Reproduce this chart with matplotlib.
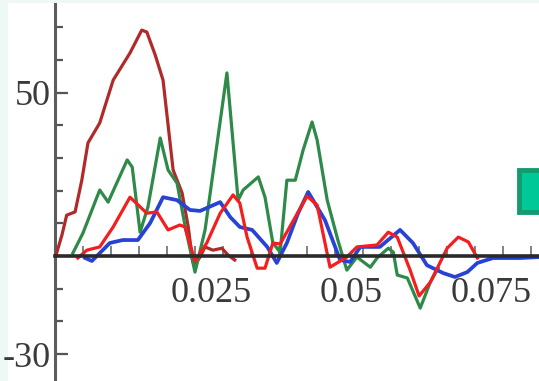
import matplotlib.pyplot as plt
from matplotlib.patches import Rectangle
from matplotlib.transforms import ScaledTranslation

# time (s) and amplitude, one pair per trace
t_dark = [0.0002, 0.00125, 0.0021, 0.0036, 0.0048, 0.0059, 0.0080, 0.0104, 0.0134, 0.0155,
          0.0164, 0.0179, 0.0193, 0.0205, 0.0211, 0.0227, 0.0238, 0.0246, 0.0252, 0.0259,
          0.0268, 0.0282, 0.0298, 0.0309, 0.0321]
y_dark = [0.3, 6.4, 12.5, 13.5, 23.2, 34.6, 40.7, 53.8, 62.1, 69.1,
          68.5, 61.5, 53.8, 35.5, 26.3, 19.3, 8.9, -1.8, -2.1, -0.3,
          2.8, 1.8, 2.4, 0.3, -1.2]

t_green = [0.0032, 0.0050, 0.0080, 0.0095, 0.0129, 0.0138, 0.0152, 0.0166, 0.0188, 0.0202,
           0.0218, 0.0232, 0.0250, 0.0268, 0.0307, 0.0327, 0.0336, 0.0363, 0.0375, 0.0389,
           0.0402, 0.0414, 0.0429, 0.0443, 0.0459, 0.0468, 0.0486, 0.0505, 0.0521, 0.0539,
           0.0563, 0.0575, 0.0595, 0.0604, 0.0611, 0.0629, 0.0652, 0.0670, 0.0684]
y_green = [0.9, 7.0, 20.2, 16.5, 29.4, 27.2, 7.3, 15.0, 36.1, 26.3,
           22.3, 9.5, -4.9, 8.0, 56.0, 17.1, 20.2, 24.2, 18.0, 4.0,
           1.2, 23.2, 23.2, 32.4, 41.0, 35.5, 17.1, 4.9, -4.3, -0.3,
           -3.4, -0.6, 2.4, 1.2, -5.8, -6.7, -15.9, -8.0, -3.7]

t_red = [0.0041, 0.0057, 0.0080, 0.0104, 0.0134, 0.0164, 0.0182, 0.0202, 0.0223, 0.0232,
         0.0250, 0.0271, 0.0295, 0.0318, 0.0330, 0.0343, 0.0361, 0.0375, 0.0389, 0.0402,
         0.0450, 0.0468, 0.0491, 0.0521, 0.0539, 0.0575, 0.0595, 0.0611, 0.0634, 0.0650,
         0.0670, 0.0700, 0.0720, 0.0738, 0.0754]
y_red = [-0.6, 1.8, 2.8, 8.9, 18.0, 13.1, 13.5, 8.0, 9.5, 8.9,
         -1.5, 4.0, 13.1, 18.7, 16.2, 5.8, -3.7, -3.7, 4.0, 3.7,
         18.3, 15.6, -3.4, -0.3, 2.8, 3.4, 7.3, 5.8, -4.3, -12.2,
         -8.0, 2.4, 5.8, 4.3, -0.6]

t_blue = [0.0054, 0.0066, 0.0080, 0.0098, 0.0121, 0.0148, 0.0170, 0.0193, 0.0218, 0.0241,
          0.0259, 0.0295, 0.0313, 0.0330, 0.0352, 0.0379, 0.0396, 0.0414, 0.0434, 0.0452,
          0.0482, 0.0509, 0.0527, 0.0545, 0.0580, 0.0616, 0.0639, 0.0664, 0.0693, 0.0714,
          0.0736, 0.0754, 0.0782, 0.0830, 0.0864]
y_blue = [-0.6, -1.5, 0.9, 4.0, 4.9, 4.9, 10.1, 18.0, 17.1, 14.1,
          13.8, 16.5, 11.9, 8.9, 8.0, 2.8, -2.1, 4.0, 13.1, 19.6,
          11.0, -1.2, -1.8, 2.8, 2.8, 8.0, 4.0, -2.8, -5.2, -6.4,
          -4.9, -2.1, -0.6, -0.6, -0.3]

x_ticks = [0.025, 0.05, 0.075]
x_labels = ['0.025', '0.05', '0.075']
y_ticks = [-30, 50]
y_labels = ['-30', '50']

plt.rcParams['font.family'] = ['Liberation Serif', 'DejaVu Serif']

fig = plt.figure(figsize=(5.39, 3.81), dpi=100)
fig.patch.set_facecolor('#eef8f4')
# white plotting area (pale band only at the very top and left)
fig.patches.append(Rectangle((8 / 539, 0), 1, 378 / 381, transform=fig.transFigure,
                             facecolor='white', edgecolor='none', zorder=-5))

ax = fig.add_axes([0, 0, 1, 1])
ax.set_facecolor('none')
ax.set_xlim(-0.0098, 0.0864)
ax.set_ylim(-38.2, 78.3)

lw = 2.3
ax.plot(t_dark, y_dark, color='#b02a2a', lw=lw, solid_joinstyle='round', zorder=3)
ax.plot(t_green, y_green, color='#2e8a48', lw=lw, solid_joinstyle='round', zorder=3)
ax.plot(t_blue, y_blue, color='#2743d6', lw=lw + 0.4, solid_joinstyle='round', zorder=4)
ax.plot(t_red, y_red, color='#f41e1e', lw=lw, solid_joinstyle='round', zorder=5)

# axes crossing at the origin
ax.spines['left'].set_position(('data', 0))
ax.spines['bottom'].set_position(('data', 0))
ax.spines['right'].set_visible(False)
ax.spines['top'].set_visible(False)
ax.spines['bottom'].set_bounds(0, 0.0864)
ax.spines['left'].set_bounds(-38.2, 77)
ax.spines['bottom'].set_color('#2a2a2a')
ax.spines['bottom'].set_linewidth(2.6)
ax.spines['bottom'].set_zorder(6)
ax.spines['left'].set_color('#5c5c5c')
ax.spines['left'].set_linewidth(2.2)

ax.set_xticks(x_ticks)
ax.set_xticklabels(x_labels)
ax.set_xticks([i * 0.005 for i in range(1, 18)], minor=True)
ax.set_yticks(y_ticks)
ax.set_yticklabels(y_labels)
ax.set_yticks([-20, -10, 10, 20, 30, 40, 60, 70], minor=True)

ax.tick_params(axis='x', which='both', direction='in', length=7, width=1.3, color='#777777',
               labelsize=26, labelcolor='#3a3a3a', pad=15)
ax.tick_params(axis='y', which='major', direction='in', length=9, width=1.6, color='#555555',
               labelsize=26, labelcolor='#3a3a3a', pad=3)
ax.tick_params(axis='y', which='minor', direction='in', length=6, width=1.6, color='#555555')

# labels sit a little right of their ticks in the original
shift = ScaledTranslation(16 / 100, 0, fig.dpi_scale_trans)
for lab in ax.get_xticklabels():
    lab.set_transform(lab.get_transform() + shift)

# cut-off legend swatch at the right edge
fig.patches.append(Rectangle((519 / 539, 169 / 381), 0.1, 42 / 381, transform=fig.transFigure,
                             facecolor='#00c896', edgecolor='#149a6c', linewidth=3.5, zorder=5))

fig.savefig('out.png', dpi=100)
